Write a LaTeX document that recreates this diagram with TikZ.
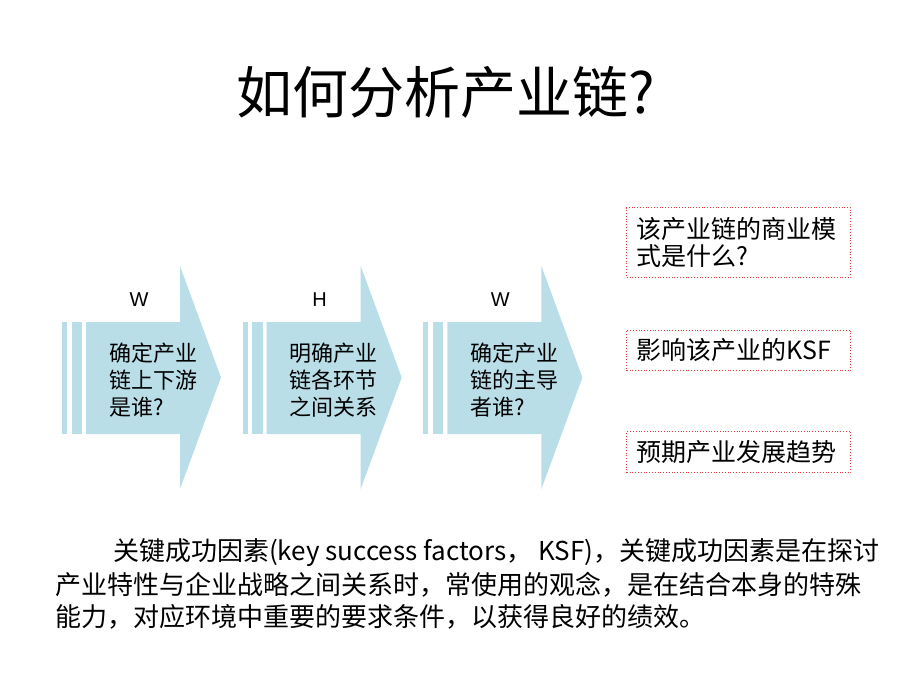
\documentclass[tikz,border=0pt]{standalone}
\usepackage{fontspec}
\setmainfont{Noto Sans CJK SC}
\newfontfamily\wfont{Liberation Sans}
\usepackage{tikz}
\definecolor{chainblue}{RGB}{185,222,232}
\definecolor{boxred}{RGB}{228,60,60}
\tikzset{
	letter/.style={font=\wfont\fontsize{20}{24}\selectfont},
	steptext/.style={font=\fontsize{22}{27}\selectfont, align=left, anchor=west, inner sep=0pt},
	ksfbox/.style={draw=boxred, dotted, line width=0.8pt, text width=204pt, inner xsep=10pt, inner ysep=0pt, align=left, font=\fontsize{25}{27}\selectfont},
	para/.style={anchor=west, inner sep=0pt, font=\fontsize{26}{32}\selectfont}
}

\begin{document}
\begin{tikzpicture}[x=1pt, y=-1pt]
	\useasboundingbox (0,0) rectangle (920,690);
	\node (T) at (446,92) {\fontsize{56}{60}\selectfont 如何分析产业链?};
	% three chain arrows
	\foreach \i/\l/\t in {0/W/{确定产业\\链上下游\\是谁?}, 1/H/{明确产业\\链各环节\\之间关系}, 2/W/{确定产业\\链的主导\\者谁?}} {
		\begin{scope}[xshift=\i*180.7]
			\fill[chainblue] (62,322) rectangle (67,434);
			\fill[chainblue] (71.5,322) rectangle (82,434);
			\fill[chainblue] (86,322) -- (180,322) -- (180,266) -- (221,377.5) -- (180,489) -- (180,434) -- (86,434) -- cycle;
			\node[letter] (L\i) at (139,300) {\l};
			\node[steptext] (S\i) at (109,380) {\t};
		\end{scope}
	}
	% questions on the right
	\node[ksfbox, minimum height=70pt] (K1) at (738.7,242.5) {该产业链的商业模\\式是什么?};
	\node[ksfbox, minimum height=40.7pt] (K2) at (738.7,350.3) {影响该产业的KSF};
	\node[ksfbox, minimum height=40.7pt] (K3) at (738.7,452) {预期产业发展趋势};
	% KSF note
	\node[para] (P1) at (113,553) {关键成功因素(key success factors， KSF)，关键成功因素是在探讨};
	\node[para] (P2) at (55,585) {产业特性与企业战略之间关系时，常使用的观念，是在结合本身的特殊};
	\node[para] (P3) at (55,617) {能力，对应环境中重要的要求条件，以获得良好的绩效。};
\end{tikzpicture}
\end{document}
